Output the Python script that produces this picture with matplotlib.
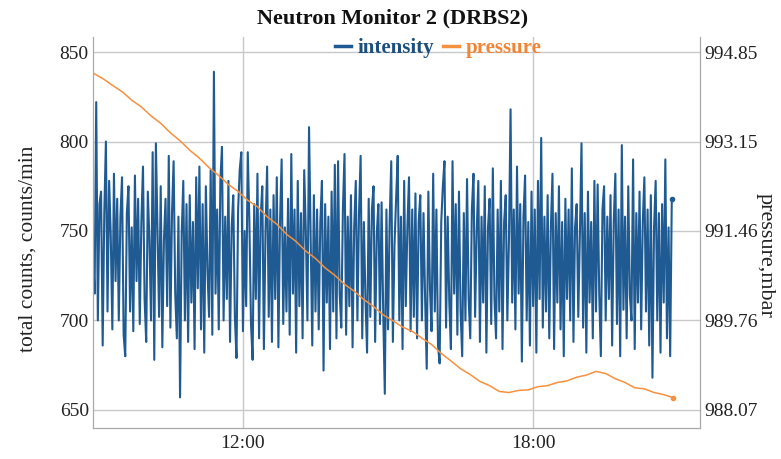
import matplotlib
matplotlib.use("Agg")
import matplotlib.pyplot as plt
import matplotlib.dates as mdates
import numpy as np
import pandas as pd

# intensity, counts/min, every 2 min from 08:54
intensity = [
    738, 715, 822, 700, 765, 772, 686, 760, 800, 705, 778, 748, 695, 782, 722, 768, 700, 758, 780, 692,
    680, 760, 775, 705, 752, 694, 781, 722, 768, 698, 755, 786, 712, 688, 772, 745, 700, 794, 678, 799,
    752, 702, 775, 685, 745, 768, 708, 792, 696, 760, 789, 715, 690, 758, 657, 748, 778, 700, 765, 688,
    770, 710, 755, 684, 780, 718, 786, 695, 765, 682, 775, 728, 702, 784, 692, 839, 715, 762, 695, 778,
    797, 700, 758, 712, 778, 688, 752, 770, 702, 679, 762, 784, 794, 694, 750, 708, 794, 755, 698, 678,
    765, 712, 782, 690, 758, 775, 684, 750, 786, 702, 762, 688, 770, 712, 780, 685, 755, 790, 698, 752,
    705, 768, 692, 793, 715, 762, 682, 778, 708, 760, 690, 784, 750, 700, 808, 748, 686, 770, 705, 762,
    695, 755, 778, 672, 765, 710, 758, 684, 772, 705, 787, 690, 789, 715, 696, 762, 793, 692, 758, 708,
    770, 685, 752, 778, 700, 760, 792, 690, 755, 712, 682, 768, 702, 762, 775, 688, 748, 765, 698, 766,
    705, 659, 762, 695, 755, 789, 688, 742, 768, 792, 700, 758, 684, 778, 708, 752, 780, 694, 762, 702,
    771, 690, 755, 770, 700, 760, 712, 673, 772, 718, 694, 782, 705, 762, 686, 676, 755, 775, 789, 696,
    758, 710, 684, 789, 715, 765, 692, 772, 705, 680, 760, 700, 779, 712, 690, 762, 782, 702, 750, 778,
    688, 758, 710, 775, 682, 752, 768, 698, 785, 712, 690, 762, 705, 778, 684, 755, 770, 700, 745, 818,
    710, 762, 695, 786, 715, 765, 677, 758, 781, 700, 755, 686, 772, 708, 762, 682, 778, 712, 802, 696,
    758, 705, 770, 690, 752, 782, 684, 760, 710, 775, 695, 755, 680, 768, 712, 762, 700, 785, 688, 752,
    765, 702, 748, 799, 696, 760, 682, 772, 710, 755, 690, 778, 705, 776, 715, 680, 762, 775, 700, 758,
    712, 770, 686, 755, 782, 698, 762, 680, 798, 706, 758, 690, 775, 714, 700, 790, 684, 760, 710, 772,
    695, 755, 780, 705, 762, 686, 770, 668, 752, 778, 700, 760, 682, 765, 710, 790, 690, 752, 680, 768,
]

# pressure, mbar, every 12 min from 08:54
pressure = [
    994.45, 994.35, 994.22, 994.10, 993.94, 993.81, 993.64, 993.50, 993.32, 993.17,
    992.99, 992.84, 992.66, 992.51, 992.34, 992.21, 992.04, 991.92, 991.73, 991.59,
    991.40, 991.26, 991.08, 990.94, 990.76, 990.62, 990.45, 990.32, 990.16, 990.03,
    989.87, 989.76, 989.64, 989.56, 989.43, 989.31, 989.14, 989.00, 988.85, 988.74,
    988.61, 988.53, 988.42, 988.40, 988.44, 988.45, 988.51, 988.53, 988.59, 988.62,
    988.69, 988.73, 988.80, 988.76, 988.66, 988.59, 988.49, 988.47, 988.40, 988.36,
    988.30,
]

left_ticks = [650, 700, 750, 800, 850]
right_ticks = [988.07, 989.76, 991.46, 993.15, 994.85]

t_int = pd.date_range("2021-01-01 08:54", periods=len(intensity), freq="2min")
t_prs = pd.date_range("2021-01-01 08:54", periods=len(pressure), freq="12min")

blue = "#1f5b92"
orange = "#f5913f"
serif = "Liberation Serif"

fig = plt.figure(figsize=(7.81, 4.59), dpi=100)
ax = fig.add_axes([93 / 781, 1 - 428 / 459, 607 / 781, 391 / 459])
ax2 = ax.twinx()

ax.plot(t_int, intensity, color=blue, lw=1.5)
ax.plot(t_int[-1:], intensity[-1:], "o", color=blue, ms=3)
ax2.plot(t_prs, pressure, color=orange, lw=1.1)
ax2.plot(t_prs[-1:], pressure[-1:], "o", color=orange, ms=3)

ax.set_xlim(pd.Timestamp("2021-01-01 08:54"), pd.Timestamp("2021-01-01 21:27"))
ax.set_ylim(639.9, 858.4)
k = (right_ticks[-1] - right_ticks[0]) / (left_ticks[-1] - left_ticks[0])
ax2.set_ylim(right_ticks[0] - (650 - 639.9) * k, right_ticks[0] + (858.4 - 650) * k)

ax.set_yticks(left_ticks)
ax.set_yticklabels([str(v) for v in left_ticks])
ax2.set_yticks(right_ticks)
ax2.set_yticklabels(["%.2f" % v for v in right_ticks])
ax.xaxis.set_major_locator(mdates.HourLocator(byhour=[12, 18]))
ax.xaxis.set_major_formatter(mdates.DateFormatter("%H:%M"))

for a in (ax, ax2):
    a.tick_params(length=0, labelsize=14, colors="#222222", pad=3)
    for lab in a.get_xticklabels() + a.get_yticklabels():
        lab.set_fontfamily(serif)
    for s in a.spines.values():
        s.set_color("#a8a8a8")
    a.spines["top"].set_visible(False)
ax.tick_params(axis="x", pad=5)

ax.grid(True, color="#c8c8c8", lw=1)
ax.set_axisbelow(True)

fig.text(393 / 781, 1 - 18 / 459, "Neutron Monitor 2 (DRBS2)", ha="center", va="center",
         fontsize=16, fontweight="bold", family=serif, color="#111111")
fig.text(28 / 781, 1 - 249 / 459, "total counts, counts/min", rotation=90, ha="center", va="center",
         fontsize=15.5, family=serif, color="#222222")
fig.text(765 / 781, 1 - 255 / 459, "pressure,mbar", rotation=-90, ha="center", va="center",
         fontsize=16, family=serif, color="#222222")

h1, = ax.plot([], [], color=blue, lw=2.5)
h2, = ax.plot([], [], color=orange, lw=2.5)
leg = fig.legend([h1, h2], ["intensity", "pressure"], loc="center",
                 bbox_to_anchor=(438 / 781, 1 - 48 / 459), ncol=2, frameon=False,
                 handlelength=0.8, handletextpad=0.3, columnspacing=0.4,
                 prop={"family": serif, "weight": "bold", "size": 15})
for txt, c in zip(leg.get_texts(), ["#1d4f7c", "#f08536"]):
    txt.set_color(c)

fig.savefig("out.png", dpi=100)
